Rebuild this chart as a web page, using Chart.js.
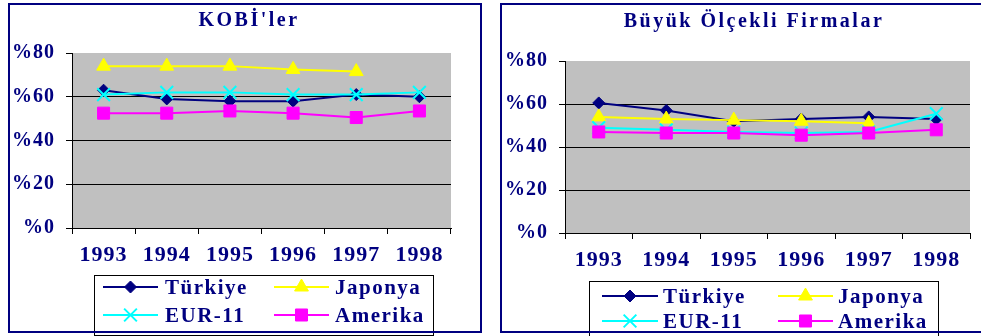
<!DOCTYPE html>
<html lang="tr">
<head>
<meta charset="utf-8">
<script src="https://cdn.jsdelivr.net/npm/chart.js@4.4.1/dist/chart.umd.min.js"></script>
<style>
  html, body { margin: 0; padding: 0; background: #fff; }
  body { width: 981px; height: 336px; position: relative; overflow: hidden; }
  canvas { position: absolute; top: 0; }
  #kobiChart { left: 0; }
  #buyukChart { left: 490px; }
  .frame { position: absolute; border: 2px solid #000080; box-sizing: border-box; pointer-events: none; }
</style>
</head>
<body>
<canvas id="kobiChart" width="490" height="336"></canvas>
<canvas id="buyukChart" width="491" height="336"></canvas>
<div class="frame" style="left:8px;top:3px;width:474px;height:330px"></div>
<div class="frame" style="left:500px;top:3px;width:520px;height:330px"></div>
<script>
// --- data ---
const years = ['1993', '1994', '1995', '1996', '1997', '1998'];
const seriesNames = ['Türkiye', 'Japonya', 'EUR-11', 'Amerika'];
const yTicks = [0, 20, 40, 60, 80];

// KOBİ'ler (%)
const kobiTurkiye = [63, 59, 58, 58, 61, 60];
const kobiJaponya = [74, 74, 74, 72.5, 71.5, null];
const kobiEur11   = [61, 62, 62, 61, 61, 62];
const kobiAmerika = [52.5, 52.5, 53.5, 52.5, 50.5, 53.5];

// Büyük ölçekli firmalar (%)
const buyukTurkiye = [60.5, 57, 52, 53, 54, 53];
const buyukJaponya = [54, 53, 52.5, 52, 51, null];
const buyukEur11   = [49, 48, 47, 46.5, 47, 55.5];
const buyukAmerika = [47, 46.5, 46.5, 45.5, 46.5, 48];

// --- styles ---
const seriesColors = ['#000080', '#ffff00', '#00ffff', '#ff00ff'];
const seriesMarkers = ['rectRot', 'triangle', 'crossRot', 'rect'];
const markerRadius = [6, 8, 9, 8.5];
const textColor = '#000080';
const serif = '"Liberation Serif", "Times New Roman", serif';

// gray plot area like the old spreadsheet charts
const plotBackground = {
    id: 'plotBackground',
    beforeDraw(chart) {
        const { ctx, chartArea: a } = chart;
        ctx.save();
        ctx.fillStyle = '#c0c0c0';
        ctx.fillRect(a.left, a.top, a.width, a.height);
        ctx.restore();
    }
};

// slightly wider letter spacing for axis labels
const spacedText = {
    id: 'spacedText',
    beforeLayout(chart) { chart.ctx.letterSpacing = '1px'; },
    beforeDraw(chart) { chart.ctx.letterSpacing = '1px'; }
};

const chartTitle = {
    id: 'chartTitle',
    afterDraw(chart, args, opts) {
        const ctx = chart.ctx;
        ctx.save();
        ctx.font = `bold 20px ${serif}`;
        ctx.letterSpacing = '2.5px';
        ctx.fillStyle = textColor;
        ctx.textAlign = 'center';
        ctx.textBaseline = 'alphabetic';
        ctx.fillText(opts.text, opts.x, opts.y);
        ctx.restore();
    }
};

// boxed two-column legend with line + marker samples
const boxLegend = {
    id: 'boxLegend',
    afterDraw(chart, args, opts) {
        const ctx = chart.ctx;
        const [bx, by, bw, bh] = opts.box;
        ctx.save();
        ctx.fillStyle = '#fff';
        ctx.fillRect(bx, by, bw, bh);
        ctx.strokeStyle = '#000';
        ctx.lineWidth = 1;
        ctx.strokeRect(bx + 0.5, by + 0.5, bw, bh);
        ctx.font = `bold 21px ${serif}`;
        ctx.letterSpacing = '1.5px';
        ctx.textBaseline = 'middle';
        chart.data.datasets.forEach((ds, i) => {
            const [x0, x1, tx] = opts.cols[i % 2];
            const y = opts.rows[Math.floor(i / 2)];
            ctx.strokeStyle = ds.borderColor;
            ctx.lineWidth = 2;
            ctx.beginPath();
            ctx.moveTo(x0, y);
            ctx.lineTo(x1, y);
            ctx.stroke();
            ctx.fillStyle = ds.pointBackgroundColor;
            ctx.strokeStyle = ds.pointBorderColor;
            ctx.lineWidth = ds.pointBorderWidth;
            Chart.helpers.drawPoint(ctx, {
                pointStyle: ds.pointStyle,
                radius: ds.pointRadius,
                borderWidth: ds.pointBorderWidth,
                rotation: 0
            }, (x0 + x1) / 2, y);
            ctx.fillStyle = textColor;
            ctx.fillText(ds.label, tx, y + 2);
        });
        ctx.restore();
    }
};

function buildDatasets(values) {
    return seriesNames.map((name, i) => ({
        label: name,
        data: values[i],
        borderColor: seriesColors[i],
        backgroundColor: seriesColors[i],
        borderWidth: 2,
        pointStyle: seriesMarkers[i],
        pointRadius: markerRadius[i],
        pointBackgroundColor: seriesColors[i],
        pointBorderColor: seriesColors[i],
        pointBorderWidth: seriesMarkers[i] === 'crossRot' ? 2 : 1,
        tension: 0,
        spanGaps: false,
        order: seriesNames.length - i
    }));
}

function createChart(canvasId, values, layout) {
    const ctx = document.getElementById(canvasId).getContext('2d');
    return new Chart(ctx, {
        type: 'line',
        data: { labels: years, datasets: buildDatasets(values) },
        plugins: [spacedText, plotBackground, chartTitle, boxLegend],
        options: {
            responsive: false,
            animation: false,
            events: [],
            layout: { padding: layout.padding },
            plugins: {
                legend: { display: false },
                tooltip: { enabled: false },
                chartTitle: layout.title,
                boxLegend: layout.legend
            },
            scales: {
                x: {
                    offset: true,
                    grid: { offset: true, drawOnChartArea: false, tickLength: 6, color: '#000', tickColor: '#000' },
                    border: { color: '#000', width: 1 },
                    ticks: {
                        color: textColor,
                        font: { family: serif, size: 22, weight: 'bold' },
                        padding: 8,
                        maxRotation: 0,
                        autoSkip: false
                    },
                    afterFit(scale) { scale.height = 60; }
                },
                y: {
                    min: yTicks[0],
                    max: yTicks[yTicks.length - 1],
                    afterBuildTicks(scale) { scale.ticks = yTicks.map(v => ({ value: v })); },
                    grid: {
                        color: c => (c.tick && c.tick.value === yTicks[yTicks.length - 1]) ? 'rgba(0,0,0,0)' : '#000',
                        tickColor: '#000',
                        tickLength: 6
                    },
                    border: { color: '#000', width: 1 },
                    ticks: {
                        color: textColor,
                        font: { family: serif, size: 20, weight: 'bold' },
                        padding: 11,
                        callback: v => '%' + v
                    },
                    afterFit(scale) { scale.width = layout.axisWidth; }
                }
            }
        }
    });
}

createChart('kobiChart', [kobiTurkiye, kobiJaponya, kobiEur11, kobiAmerika], {
    padding: { left: 0, top: 53, right: 39, bottom: 48 },
    axisWidth: 72,
    title: { text: "KOBİ'ler", x: 249, y: 26 },
    legend: {
        box: [94, 275, 339, 60],
        rows: [287, 315],
        cols: [[103, 158, 165], [274, 329, 335]]
    }
});

createChart('buyukChart', [buyukTurkiye, buyukJaponya, buyukEur11, buyukAmerika], {
    padding: { left: 0, top: 61, right: 10, bottom: 43 },
    axisWidth: 75,
    title: { text: 'Büyük Ölçekli Firmalar', x: 264, y: 27 },
    legend: {
        box: [99, 281, 349, 56],
        rows: [296, 321],
        cols: [[112, 168, 173], [288, 343, 348]]
    }
});
</script>
</body>
</html>
